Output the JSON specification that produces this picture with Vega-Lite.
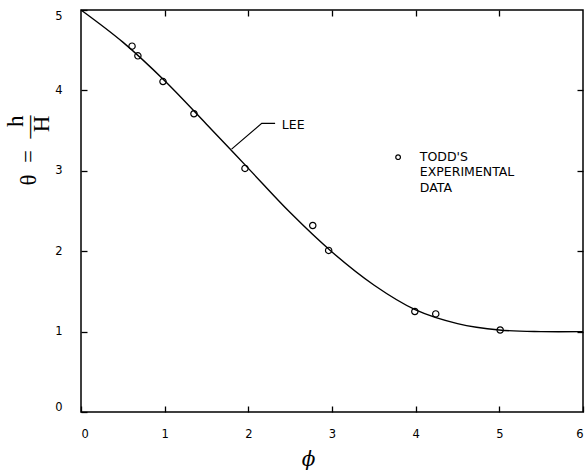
{
  "$schema": "https://vega.github.io/schema/vega-lite/v6.json",
  "width": 502,
  "height": 402,
  "autosize": {"type": "none"},
  "padding": {"left": 81, "top": 10, "right": 3, "bottom": 60},
  "background": "white",
  "config": {
    "view": {"stroke": "black", "strokeWidth": 1.5},
    "axis": {
      "grid": false,
      "domain": false,
      "tickColor": "black",
      "tickSize": -6,
      "tickWidth": 1.3,
      "labelFont": "DejaVu Sans",
      "labelFontSize": 11.5,
      "labelColor": "black",
      "labelFlush": true
    }
  },
  "datasets": {
    "curve": [
      {"phi": 0.0, "theta": 5.0},
      {"phi": 0.5, "theta": 4.6},
      {"phi": 1.0, "theta": 4.12},
      {"phi": 1.5, "theta": 3.58},
      {"phi": 2.0, "theta": 3.03},
      {"phi": 2.5, "theta": 2.48},
      {"phi": 3.0, "theta": 1.99},
      {"phi": 3.5, "theta": 1.58},
      {"phi": 4.0, "theta": 1.27},
      {"phi": 4.5, "theta": 1.1},
      {"phi": 5.0, "theta": 1.02},
      {"phi": 5.5, "theta": 1.0},
      {"phi": 6.0, "theta": 1.0}
    ],
    "todd": [
      {"phi": 0.61, "theta": 4.55},
      {"phi": 0.68, "theta": 4.43},
      {"phi": 0.98, "theta": 4.11},
      {"phi": 1.35, "theta": 3.71},
      {"phi": 1.96, "theta": 3.03},
      {"phi": 2.77, "theta": 2.32},
      {"phi": 2.96, "theta": 2.01},
      {"phi": 3.99, "theta": 1.25},
      {"phi": 4.24, "theta": 1.22},
      {"phi": 5.01, "theta": 1.02}
    ],
    "leader": [
      {"phi": 1.8, "theta": 3.27, "o": 1},
      {"phi": 2.16, "theta": 3.59, "o": 2},
      {"phi": 2.32, "theta": 3.59, "o": 3}
    ],
    "labels": [
      {"phi": 2.4, "theta": 3.57, "text": "LEE"},
      {"phi": 4.05, "theta": 3.17, "text": "TODD'S"},
      {"phi": 4.05, "theta": 2.99, "text": "EXPERIMENTAL"},
      {"phi": 4.05, "theta": 2.79, "text": "DATA"}
    ],
    "legendpt": [
      {"phi": 3.79, "theta": 3.17}
    ]
  },
  "resolve": {"axis": {"x": "independent", "y": "independent"}},
  "layer": [
    {
      "data": {"name": "curve"},
      "mark": {"type": "line", "interpolate": "catmull-rom", "color": "black", "strokeWidth": 1.4},
      "encoding": {
        "x": {
          "field": "phi", "type": "quantitative",
          "scale": {"domain": [0, 6], "nice": false},
          "axis": {
            "orient": "bottom",
            "values": [0, 1, 2, 3, 4, 5, 6],
            "labelPadding": 22,
            "title": "ϕ",
            "titleFont": "DejaVu Serif",
            "titleFontStyle": "italic",
            "titleFontWeight": "normal",
            "titleFontSize": 20,
            "titleColor": "black",
            "titleX": 227,
            "titleY": 47,
            "titleBaseline": "middle"
          }
        },
        "y": {
          "field": "theta", "type": "quantitative",
          "scale": {"domain": [0, 5], "nice": false},
          "axis": {
            "orient": "left",
            "values": [0, 1, 2, 3, 4, 5],
            "labelPadding": 25,
            "title": ["h\u00a0", "θ\u2002=\u2002—", "H"],
            "titleFont": "Liberation Serif",
            "titleFontWeight": "normal",
            "titleFontSize": 23,
            "titleLineHeight": 13,
            "titleColor": "black",
            "titleAlign": "right",
            "titleAngle": -90,
            "titleX": -66,
            "titleY": 105,
            "titleBaseline": "middle"
          }
        }
      }
    },
    {
      "data": {"name": "todd"},
      "mark": {"type": "point", "shape": "circle", "filled": false, "color": "black", "strokeWidth": 1.2, "size": 40, "opacity": 1},
      "encoding": {
        "x": {"field": "phi", "type": "quantitative", "axis": {"orient": "top", "values": [1, 2, 3, 4, 5], "labels": false, "title": null}},
        "y": {"field": "theta", "type": "quantitative", "axis": {"orient": "right", "values": [1, 2, 3, 4], "labels": false, "title": null}}
      }
    },
    {
      "data": {"name": "leader"},
      "mark": {"type": "line", "color": "black", "strokeWidth": 1.2},
      "encoding": {
        "x": {"field": "phi", "type": "quantitative", "axis": null},
        "y": {"field": "theta", "type": "quantitative", "axis": null},
        "order": {"field": "o"}
      }
    },
    {
      "data": {"name": "labels"},
      "mark": {"type": "text", "align": "left", "baseline": "middle", "font": "DejaVu Sans", "fontSize": 12.5, "color": "black"},
      "encoding": {
        "x": {"field": "phi", "type": "quantitative", "axis": null},
        "y": {"field": "theta", "type": "quantitative", "axis": null},
        "text": {"field": "text"}
      }
    },
    {
      "data": {"name": "legendpt"},
      "mark": {"type": "point", "shape": "circle", "filled": false, "color": "black", "strokeWidth": 1.2, "size": 22, "opacity": 1},
      "encoding": {
        "x": {"field": "phi", "type": "quantitative", "axis": null},
        "y": {"field": "theta", "type": "quantitative", "axis": null}
      }
    }
  ]
}
